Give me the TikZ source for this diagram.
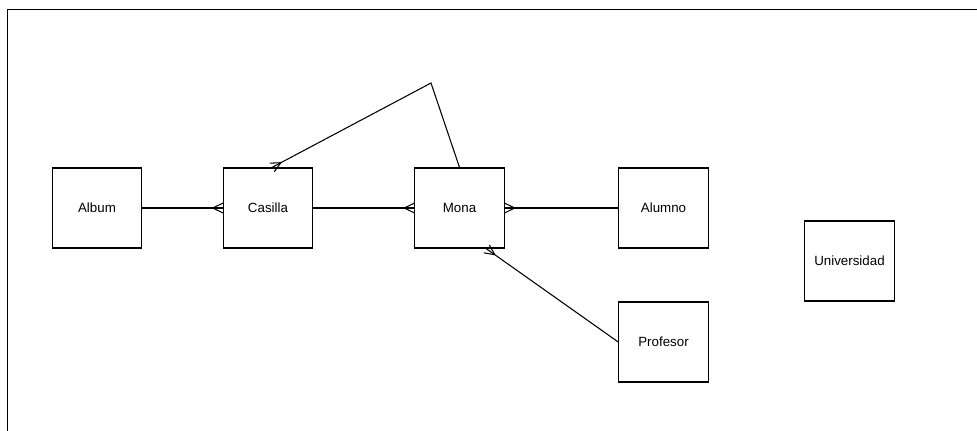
\documentclass[tikz,border=0pt]{standalone}
\usepackage{fontspec}
\setmainfont{Liberation Sans}
\usetikzlibrary{decorations.markings}
\begin{document}
\begin{tikzpicture}[x=0.75pt,y=-0.75pt,
  entity/.style={draw, line width=0.9pt, rectangle, minimum width=67pt, minimum height=60pt, inner sep=0pt, font=\fontsize{10}{12}\selectfont},
  rel/.style={draw, line width=0.8pt},
  crowend/.style={postaction={decorate, decoration={markings, mark=at position 1 with {\draw[line width=0.8pt] (-7.5pt,0) -- (0,3.6pt) (-7.5pt,0) -- (0,-3.6pt);}}}}
]
\useasboundingbox (0,0) rectangle (977,430);
% frame
\draw[line width=1.3pt] (7.5,431) -- (7.5,9.5) -- (978,9.5);
% entities
\node[entity] (album) at (97,208) {Album};
\node[entity] (casilla) at (268,208) {Casilla};
\node[entity] (mona) at (459.5,208) {Mona};
\node[entity] (alumno) at (663.5,208) {Alumno};
\node[entity] (universidad) at (849.5,261) {Universidad};
\node[entity] (profesor) at (663.5,342) {Profesor};
\coordinate (peak) at (431,83);
% relations
\draw[rel, crowend] (album.east) -- (casilla.west);
\draw[rel, crowend] (casilla.east) -- (mona.west);
\draw[rel, crowend] (alumno.west) -- (mona.east);
\draw[rel, crowend] (mona.north) -- (peak) -- ([xshift=3pt]casilla.north);
\draw[rel, crowend] (profesor.west) -- ([xshift=20pt]mona.south);
\end{tikzpicture}
\end{document}
